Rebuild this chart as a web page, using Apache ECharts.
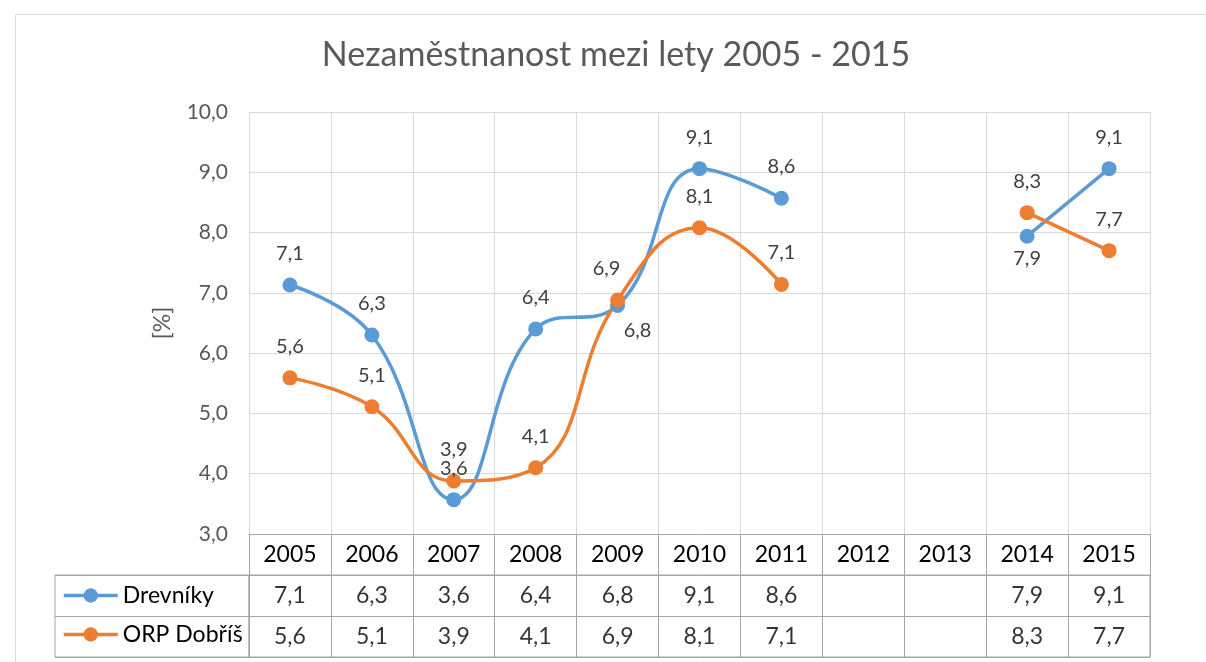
<!DOCTYPE html>
<html lang="cs">

<head>
    <meta charset="UTF-8">
    <script src="https://cdn.jsdelivr.net/npm/echarts@6/dist/echarts.min.js"></script>
    <title>Nezaměstnanost</title>
    <style>
        body { margin: 0; background: #fff; }
    </style>
</head>

<body>
    <div id="main" style="width: 1206px;height: 662px;"></div>

    <script>
        // data
        var years = ['2005', '2006', '2007', '2008', '2009', '2010', '2011', '2012', '2013', '2014', '2015'];
        var seriesNames = ['Drevníky', 'ORP Dobříš'];
        var drevniky = [7.13, 6.30, 3.57, 6.40, 6.79, 9.06, 8.57, null, null, 7.94, 9.06];
        var orpDobris = [5.59, 5.11, 3.88, 4.10, 6.88, 8.08, 7.14, null, null, 8.33, 7.70];

        var font = 'Lato, "Open Sans", sans-serif';
        var fmt = function (v) { return v.toFixed(1).replace('.', ','); };

        // label tweaks where Excel put the label elsewhere
        var blueLabelFix = {
            4: { position: 'bottom', distance: 8, offset: [20, 0] },
            9: { position: 'bottom', distance: 5 }
        };
        var orangeLabelFix = {
            4: { offset: [-11, 0] }
        };

        function items(values, fix) {
            return values.map(function (v, i) {
                if (v === null) return null;
                var it = { value: v };
                if (fix[i]) it.label = fix[i];
                return it;
            });
        }

        // cells for the data table
        var tableCells = [];
        [drevniky, orpDobris].forEach(function (arr, row) {
            arr.forEach(function (v, i) {
                if (v !== null) tableCells.push([i, row, v]);
            });
        });

        var chartDom = document.getElementById('main');
        var myChart = echarts.init(chartDom);
        var option;

        var lineBase = {
            type: 'line',
            smooth: 0.45,
            symbol: 'circle',
            symbolSize: 15,
            connectNulls: false,
            lineStyle: { width: 3.5 },
            label: {
                show: true,
                position: 'top',
                distance: 14,
                color: '#404040',
                fontSize: 20,
                fontFamily: font,
                formatter: function (p) { return fmt(p.value); }
            },
            emphasis: { disabled: true },
            z: 3
        };

        option = {
            animation: false,
            color: ['#5B9BD5', '#ED7D31'],
            title: {
                text: 'Nezaměstnanost mezi lety 2005 - 2015',
                left: 616,
                top: 38,
                textAlign: 'center',
                padding: 0,
                textStyle: {
                    color: '#595959',
                    fontSize: 34,
                    fontWeight: 'normal',
                    fontFamily: font
                }
            },
            legend: {
                data: seriesNames,
                orient: 'vertical',
                left: 62,
                top: 584,
                padding: 0,
                itemWidth: 54,
                itemHeight: 18,
                itemGap: 16,
                selectedMode: false,
                lineStyle: { width: 3.5 },
                textStyle: { color: '#000', fontSize: 23, fontFamily: font }
            },
            graphic: [
                {
                    // outer chart frame
                    type: 'rect',
                    left: 13,
                    top: 12,
                    shape: { width: 1400, height: 900 },
                    style: { fill: 'none', stroke: '#d9d9d9', lineWidth: 1 },
                    silent: true
                }
            ],
            grid: [
                // plot area
                { left: 249, right: 56, top: 112, bottom: 128 },
                // data table body
                {
                    left: 249, right: 56, top: 575, height: 82,
                    show: true, borderColor: '#a6a6a6', borderWidth: 1
                },
                // legend column of the table
                {
                    left: 55, width: 194, top: 575, height: 82,
                    show: true, borderColor: '#a6a6a6', borderWidth: 1
                }
            ],
            xAxis: [
                {
                    type: 'category',
                    gridIndex: 0,
                    data: years,
                    boundaryGap: true,
                    axisLine: { lineStyle: { color: '#a6a6a6', width: 1 } },
                    axisTick: { show: true, length: 41, interval: 0, lineStyle: { color: '#a6a6a6' } },
                    axisLabel: {
                        interval: 0,
                        margin: 9,
                        color: '#000',
                        fontSize: 23,
                        fontFamily: font
                    },
                    splitLine: { show: true, interval: 0, lineStyle: { color: '#d9d9d9' } }
                },
                {
                    type: 'category',
                    gridIndex: 1,
                    data: years,
                    boundaryGap: true,
                    axisLine: { show: false },
                    axisTick: { show: false },
                    axisLabel: { show: false },
                    splitLine: { show: true, interval: 0, lineStyle: { color: '#a6a6a6' } }
                },
                {
                    type: 'value',
                    gridIndex: 2,
                    axisLine: { show: false },
                    axisTick: { show: false },
                    axisLabel: { show: false },
                    splitLine: { show: false }
                }
            ],
            yAxis: [
                {
                    type: 'value',
                    gridIndex: 0,
                    min: 3,
                    max: 10,
                    interval: 1,
                    name: '[%]',
                    nameLocation: 'middle',
                    nameGap: 75,
                    nameTextStyle: { color: '#595959', fontSize: 23, fontFamily: font },
                    axisLine: { show: false },
                    axisTick: { show: false },
                    axisLabel: {
                        margin: 21,
                        color: '#595959',
                        fontSize: 21,
                        fontFamily: font,
                        formatter: fmt
                    },
                    splitLine: { lineStyle: { color: '#d9d9d9' } }
                },
                {
                    type: 'category',
                    gridIndex: 1,
                    data: seriesNames,
                    inverse: true,
                    axisLine: { show: false },
                    axisTick: { show: false },
                    axisLabel: { show: false },
                    splitLine: { show: true, interval: 0, lineStyle: { color: '#a6a6a6' } }
                },
                {
                    type: 'category',
                    gridIndex: 2,
                    data: seriesNames,
                    inverse: true,
                    axisLine: { show: false },
                    axisTick: { show: false },
                    axisLabel: { show: false },
                    splitLine: { show: true, interval: 0, lineStyle: { color: '#a6a6a6' } }
                }
            ],
            series: [
                Object.assign({}, lineBase, {
                    name: seriesNames[0],
                    data: items(drevniky, blueLabelFix)
                }),
                Object.assign({}, lineBase, {
                    name: seriesNames[1],
                    data: items(orpDobris, orangeLabelFix)
                }),
                {
                    name: 'table',
                    type: 'scatter',
                    xAxisIndex: 1,
                    yAxisIndex: 1,
                    symbolSize: 1,
                    itemStyle: { color: 'rgba(0,0,0,0)' },
                    silent: true,
                    label: {
                        show: true,
                        position: 'inside',
                        color: '#000',
                        fontSize: 23,
                        fontFamily: font,
                        formatter: function (p) { return fmt(p.value[2]); }
                    },
                    data: tableCells
                }
            ]
        };
        myChart.setOption(option);

    </script>
</body>

</html>
